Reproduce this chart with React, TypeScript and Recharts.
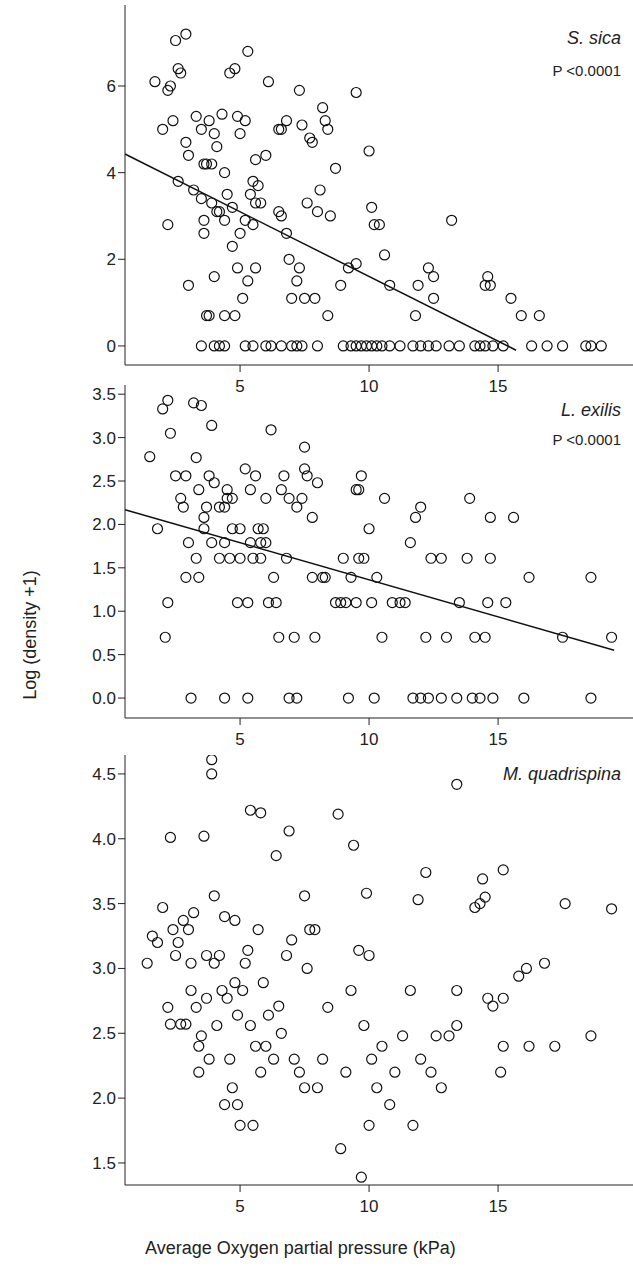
import { ScatterChart, Scatter, XAxis, YAxis, ReferenceLine } from "recharts";

// S. sica
const sicaPts: [number, number][] = [
  [1.7,6.1],[2.0,5.0],[2.2,5.9],[2.3,6.0],[2.5,7.05],[2.6,6.4],[2.7,6.3],[2.9,7.2],[2.4,5.2],[2.9,4.7],
  [3.0,4.4],[3.3,5.3],[3.5,5.0],[3.6,4.2],[3.7,4.2],[3.9,4.2],[3.8,5.2],[4.0,4.9],[4.1,4.6],[4.3,5.35],
  [4.4,4.0],[4.6,6.3],[4.8,6.4],[4.9,5.3],[5.0,4.9],[5.3,6.8],[5.2,5.2],[5.6,4.3],[4.2,3.1],[2.2,2.8],
  [2.6,3.8],[3.0,1.4],[3.2,3.6],[3.5,3.4],[3.6,2.9],[3.6,2.6],[3.9,3.3],[4.1,3.1],[4.4,2.9],[4.0,1.6],
  [4.5,3.5],[4.7,3.2],[4.7,2.3],[5.0,2.6],[5.2,2.9],[5.4,3.5],[5.5,3.8],[5.6,3.3],[5.7,3.7],[5.8,3.3],
  [5.5,2.8],[5.3,1.5],[5.6,1.8],[4.9,1.8],[5.1,1.1],[4.8,0.7],[3.8,0.7],[3.7,0.7],[4.4,0.7],[6.0,4.4],
  [6.1,6.1],[6.5,5.0],[6.6,5.0],[6.8,5.2],[7.3,5.9],[7.4,5.1],[7.7,4.8],[7.8,4.7],[8.2,5.5],[8.3,5.2],
  [8.4,5.0],[9.5,5.85],[6.5,3.1],[6.6,3.0],[6.8,2.6],[6.9,2.0],[7.2,1.5],[7.3,1.8],[7.5,1.1],[7.0,1.1],
  [7.9,1.1],[7.6,3.3],[8.0,3.1],[8.1,3.6],[8.5,3.0],[8.7,4.1],[8.4,0.7],[8.9,1.4],[9.2,1.8],[9.5,1.9],
  [10.0,4.5],[10.1,3.2],[10.2,2.8],[10.4,2.8],[10.6,2.1],[10.8,1.4],[11.8,0.7],[11.9,1.4],[12.3,1.8],
  [12.5,1.1],[12.5,1.6],[13.2,2.9],[14.6,1.6],[14.5,1.4],[14.7,1.4],[15.5,1.1],[15.9,0.7],[16.6,0.7],
];
const sicaZeros = [3.5,4.0,4.2,4.4,5.2,5.5,6.0,6.2,6.6,7.0,7.2,7.4,8.0,9.0,9.3,9.5,9.7,9.9,10.1,10.3,
  10.5,10.8,11.2,11.7,12.0,12.3,12.6,13.1,13.5,14.1,14.3,14.5,14.8,15.2,16.3,16.9,17.5,18.4,18.6,19.0];

// L. exilis
const exilisPts: [number, number][] = [
  [1.5,2.78],[1.8,1.95],[2.0,3.33],[2.2,3.43],[2.3,3.05],[2.2,1.1],[2.1,0.7],[2.5,2.56],[2.7,2.3],[2.8,2.2],
  [2.9,2.56],[2.9,1.39],[3.0,1.79],[3.2,3.4],[3.3,2.77],[3.4,1.39],[3.5,3.37],[3.3,1.61],[3.6,2.08],[3.4,2.4],
  [3.6,1.95],[3.7,2.2],[3.8,2.56],[3.9,3.14],[3.9,1.79],[4.0,2.48],[4.2,2.2],[4.2,1.61],[4.4,2.2],[4.5,2.4],
  [4.5,2.3],[4.4,1.79],[4.6,1.61],[4.7,1.95],[4.7,2.3],[4.9,1.1],[5.0,1.61],[5.0,1.95],[5.2,2.64],[5.3,1.1],
  [5.4,2.4],[5.4,1.79],[5.5,1.61],[5.6,2.56],[5.7,1.95],[5.8,1.61],[5.8,1.79],[5.9,1.95],[6.0,2.3],[6.0,1.79],
  [6.1,1.1],[6.2,3.09],[6.3,1.39],[6.4,1.1],[6.5,0.7],[6.6,2.4],[6.7,2.56],[6.8,1.61],[6.9,2.3],[7.1,0.7],
  [7.2,2.2],[7.4,2.3],[7.5,2.89],[7.5,2.64],[7.6,2.56],[7.8,2.08],[7.8,1.39],[7.9,0.7],[8.0,2.48],[8.2,1.39],
  [8.3,1.39],[8.7,1.1],[8.9,1.1],[9.0,1.61],[9.1,1.1],[9.3,1.39],[9.5,2.4],[9.6,2.4],[9.7,2.56],[9.5,1.1],
  [9.6,1.61],[9.8,1.61],[10.0,1.95],[10.1,1.1],[10.3,1.39],[10.5,0.7],[10.6,2.3],[10.9,1.1],[11.2,1.1],
  [11.4,1.1],[11.6,1.79],[11.8,2.08],[12.0,2.2],[12.2,0.7],[12.4,1.61],[12.8,1.61],[13.0,0.7],[13.5,1.1],
  [13.8,1.61],[13.9,2.3],[14.1,0.7],[14.5,0.7],[14.6,1.1],[14.7,1.61],[14.7,2.08],[15.3,1.1],[15.6,2.08],
  [16.2,1.39],[17.5,0.7],[18.6,1.39],[19.4,0.7],
];
const exilisZeros = [3.1,4.4,5.3,6.9,7.2,9.2,10.2,11.7,12.0,12.3,12.8,13.4,14.0,14.3,14.8,16.0,18.6];

// M. quadrispina
const quadPts: [number, number][] = [
  [1.4,3.04],[1.6,3.25],[1.8,3.2],[2.0,3.47],[2.2,2.7],[2.3,4.01],[2.3,2.57],[2.4,3.3],[2.5,3.1],[2.6,3.2],
  [2.7,2.57],[2.8,3.37],[2.9,2.57],[3.0,3.3],[3.1,2.83],[3.1,3.04],[3.2,3.43],[3.3,2.7],[3.4,2.4],[3.4,2.2],
  [3.5,2.48],[3.6,4.02],[3.7,2.77],[3.7,3.1],[3.8,2.3],[3.9,4.61],[3.9,4.5],[4.0,3.56],[4.0,3.04],[4.1,2.56],
  [4.2,3.1],[4.3,2.83],[4.4,3.4],[4.4,1.95],[4.5,2.77],[4.6,2.3],[4.7,2.08],[4.8,3.37],[4.8,2.89],[4.9,1.95],
  [4.9,2.64],[5.0,1.79],[5.1,2.83],[5.2,3.04],[5.3,3.14],[5.4,2.56],[5.4,4.22],[5.5,1.79],[5.6,2.4],[5.7,3.3],
  [5.8,4.2],[5.8,2.2],[5.9,2.89],[6.0,2.4],[6.1,2.64],[6.3,2.3],[6.4,3.87],[6.5,2.71],[6.6,2.5],[6.8,3.1],
  [6.9,4.06],[7.0,3.22],[7.1,2.3],[7.3,2.2],[7.5,2.08],[7.5,3.56],[7.6,3.0],[7.7,3.3],[7.9,3.3],[8.0,2.08],
  [8.2,2.3],[8.4,2.7],[8.8,4.19],[8.9,1.61],[9.1,2.2],[9.3,2.83],[9.4,3.95],[9.6,3.14],[9.7,1.39],[9.8,2.56],
  [9.9,3.58],[10.0,3.1],[10.0,1.79],[10.1,2.3],[10.3,2.08],[10.5,2.4],[10.8,1.95],[11.0,2.2],[11.3,2.48],
  [11.6,2.83],[11.7,1.79],[11.9,3.53],[12.2,3.74],[12.0,2.3],[12.4,2.2],[12.6,2.48],[13.1,2.48],[12.8,2.08],
  [13.4,2.56],[13.4,2.83],[13.4,4.42],[14.1,3.47],[14.3,3.5],[14.4,3.69],[14.5,3.55],[14.6,2.77],[14.8,2.71],
  [15.1,2.2],[15.2,2.77],[15.2,3.76],[15.2,2.4],[15.8,2.94],[16.1,3.0],[16.2,2.4],[16.8,3.04],[17.2,2.4],
  [17.6,3.5],[18.6,2.48],[19.4,3.46],
];

const xTicks = [5, 10, 15];
const sicaTicks = [0, 2, 4, 6];
const exilisTicks = [0, 0.5, 1, 1.5, 2, 2.5, 3, 3.5];
const quadTicks = [1.5, 2, 2.5, 3, 3.5, 4, 4.5];

const toRows = (pts: [number, number][]) => pts.map(([x, y]) => ({ x, y }));
const sicaData = [...toRows(sicaPts), ...sicaZeros.map((x) => ({ x, y: 0 }))];
const exilisData = [...toRows(exilisPts), ...exilisZeros.map((x) => ({ x, y: 0 }))];
const quadData = toRows(quadPts);

const font = "'Liberation Sans', Arial, sans-serif";
const tick = { fill: "#222", fontSize: 17, fontFamily: font };
const xTick = { ...tick, dy: 6 };
const ring = (p: any) => <circle cx={p.cx} cy={p.cy} r={5} fill="none" stroke="#111" strokeWidth={1.2} />;

function Panel(props: {
  top: number; height: number; data: any[]; yDomain: [number, number]; yTicks: number[];
  fmt?: (v: number) => string; seg?: [{ x: number; y: number }, { x: number; y: number }];
}) {
  return (
    <div style={{ position: "absolute", left: 0, top: props.top }}>
      <ScatterChart width={633} height={props.height} margin={{ top: 10, right: 0, bottom: 0, left: 0 }}>
        <XAxis type="number" dataKey="x" domain={[0.54, 20.23]} ticks={xTicks} allowDataOverflow
          height={40} tick={xTick} stroke="#222" tickSize={7} />
        <YAxis type="number" dataKey="y" domain={props.yDomain} ticks={props.yTicks} allowDataOverflow
          width={125} tick={tick} stroke="#222" tickSize={7} tickFormatter={props.fmt} />
        <Scatter data={props.data} shape={ring} isAnimationActive={false} />
        {props.seg && <ReferenceLine segment={props.seg} stroke="#111" strokeWidth={1.5} />}
      </ScatterChart>
    </div>
  );
}

const lbl = (top: number, text: string, italic: boolean, size: number) => (
  <div style={{ position: "absolute", right: 12, top, fontFamily: font, fontSize: size,
    fontStyle: italic ? "italic" : "normal", color: "#222" }}>{text}</div>
);

export default function App() {
  return (
    <div style={{ position: "absolute", left: 0, top: 0, width: 633, height: 1270, background: "#fff" }}>
      <Panel top={-5} height={410} data={sicaData} yDomain={[-0.44, 7.87]} yTicks={sicaTicks}
        seg={[{ x: 0.54, y: 4.43 }, { x: 15.7, y: -0.1 }]} />
      <Panel top={375} height={383} data={exilisData} yDomain={[-0.23, 3.606]} yTicks={exilisTicks}
        fmt={(v) => v.toFixed(1)} seg={[{ x: 0.54, y: 2.17 }, { x: 19.5, y: 0.55 }]} />
      <Panel top={745} height={480} data={quadData} yDomain={[1.33, 4.646]} yTicks={quadTicks}
        fmt={(v) => v.toFixed(1)} />
      {lbl(28, "S. sica", true, 18)}
      {lbl(62, "P <0.0001", false, 15)}
      {lbl(400, "L. exilis", true, 18)}
      {lbl(431, "P <0.0001", false, 15)}
      {lbl(764, "M. quadrispina", true, 18)}
      <div style={{ position: "absolute", left: 30, top: 635, transform: "translate(-50%,-50%) rotate(-90deg)",
        fontFamily: font, fontSize: 18, color: "#222", whiteSpace: "nowrap" }}>Log (density +1)</div>
      <div style={{ position: "absolute", left: 145, top: 1238, fontFamily: font, fontSize: 18,
        color: "#222", whiteSpace: "nowrap" }}>Average Oxygen partial pressure (kPa)</div>
    </div>
  );
}
